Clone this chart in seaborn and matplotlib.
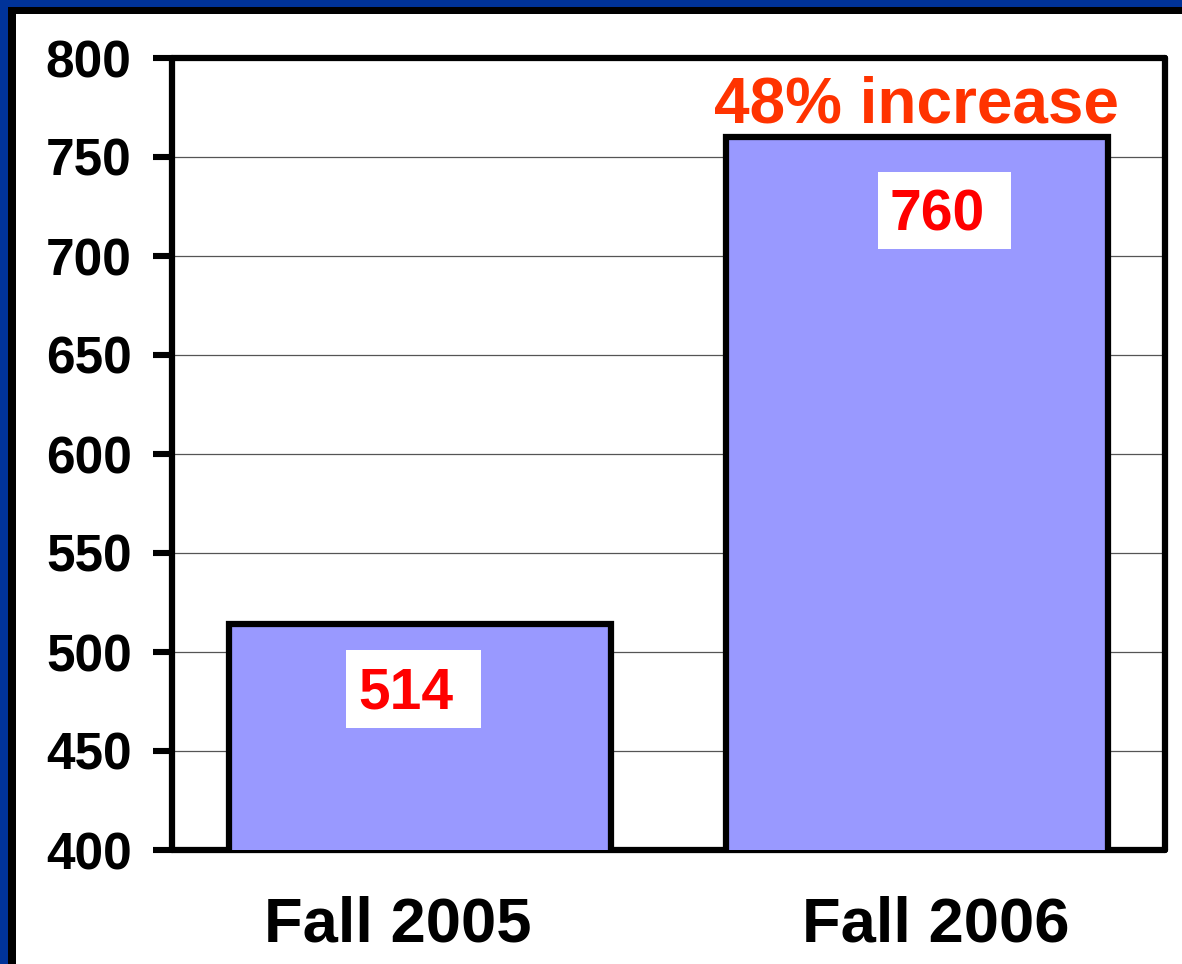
import matplotlib
matplotlib.use("Agg")
import matplotlib.pyplot as plt
import matplotlib.transforms as mtransforms
import seaborn as sns
import pandas as pd
from matplotlib.patches import Rectangle

# chart data
terms = ["Fall 2005", "Fall 2006"]
enrollment = [514, 760]
value_labels = ["514", "760"]
note_text = "48% increase"
y_ticks = [400, 450, 500, 550, 600, 650, 700, 750, 800]

df = pd.DataFrame({"term": terms, "count": enrollment})

sns.set_style("white")
plt.rcParams["font.family"] = ["Liberation Sans", "DejaVu Sans"]
plt.rcParams["font.weight"] = "bold"
plt.rcParams["text.color"] = "black"
plt.rcParams["xtick.color"] = "black"
plt.rcParams["ytick.color"] = "black"

W, H = 1182, 964
fig = plt.figure(figsize=(W / 100, H / 100), dpi=100)
fig.patch.set_facecolor("white")
ax = fig.add_axes([172 / W, 1 - 850 / H, (1165 - 172) / W, (850 - 58) / H])

sns.barplot(data=df, x="term", y="count", ax=ax, color="#9999FF", saturation=1,
            width=0.77, edgecolor="black", linewidth=4.5, zorder=3)

ax.set_ylim(400, 800)
ax.set_xlim(-0.5, 1.5)
ax.set_yticks(y_ticks)
ax.set_yticklabels([str(t) for t in y_ticks], fontsize=37, fontweight="bold")
ax.set_xticklabels(terms, fontsize=45.5, fontweight="bold")
ax.set_xlabel("")
ax.set_ylabel("")
ax.yaxis.grid(True, color="#555555", linewidth=0.9, zorder=0)
ax.set_axisbelow(True)
ax.tick_params(axis="y", left=True, length=14, width=4.4, direction="out", pad=15,
               labelcolor="black")
ax.tick_params(axis="x", bottom=False, length=0, pad=33, labelcolor="black")
for line in ax.yaxis.get_ticklines():
    line.set_solid_capstyle("round")
for sp in ax.spines.values():
    sp.set_visible(True)
    sp.set_color("black")
    sp.set_linewidth(4.5)
    sp.set_capstyle("round")

# nudge the category labels the way they sit in the original
for lab, dx in zip(ax.get_xticklabels(), [-22.5, 18.5]):
    lab.set_transform(lab.get_transform() +
                      mtransforms.ScaledTranslation(dx / 100, 0, fig.dpi_scale_trans))

# value labels in white boxes
box_spans = [((-0.1495, 461.6), 0.272, 39.4), ((0.922, 703.5), 0.268, 38.9)]
text_pos = [(-0.0297, 471.6), (1.042, 713.0)]
for (xy, bw, bh), (tx, ty), txt in zip(box_spans, text_pos, value_labels):
    ax.add_patch(Rectangle(xy, bw, bh, facecolor="white", edgecolor="none", zorder=4))
    ax.text(tx, ty, txt, ha="center", va="baseline", color="#FF0000", fontsize=41,
            fontweight="bold", zorder=5)

ax.text(1.0, 767.2, note_text, ha="center", va="baseline", color="#FF3300",
        fontsize=46, fontweight="bold", zorder=5)

# slide frame: blue band with black inner line on left and top
fig.add_artist(Rectangle((0, 0), 8 / W, 1, transform=fig.transFigure,
                         facecolor="#003399", edgecolor="none"))
fig.add_artist(Rectangle((0, 1 - 7 / H), 1, 7 / H, transform=fig.transFigure,
                         facecolor="#003399", edgecolor="none"))
fig.add_artist(Rectangle((8 / W, 0), 8 / W, 1 - 7 / H, transform=fig.transFigure,
                         facecolor="black", edgecolor="none"))
fig.add_artist(Rectangle((8 / W, 1 - 14 / H), 1, 7 / H, transform=fig.transFigure,
                         facecolor="black", edgecolor="none"))

fig.savefig("out.png", dpi=100, facecolor="white")
